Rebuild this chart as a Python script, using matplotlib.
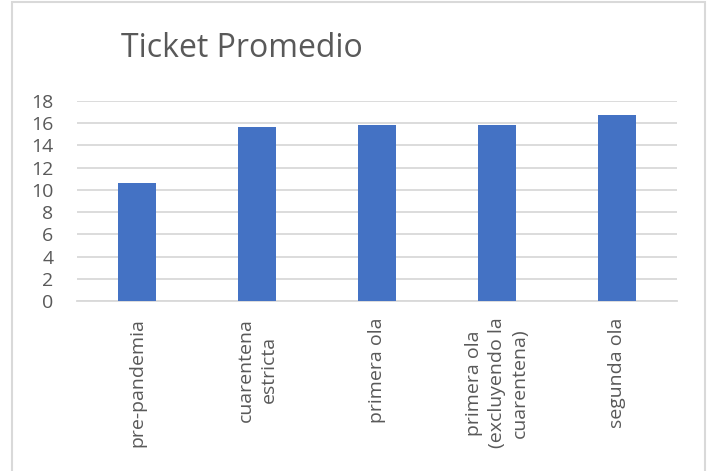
import matplotlib.pyplot as plt
import matplotlib.patches as mpatches
import numpy as np

categories = ['pre-pandemia', 'cuarentena\nestricta', 'primera ola',
              'primera ola\n(excluyendo la\ncuarentena)', 'segunda ola']
ticket = [10.6, 15.7, 15.8, 15.85, 16.75]
yticks = [0, 2, 4, 6, 8, 10, 12, 14, 16, 18]

TXT = '#595959'
plt.rcParams['font.family'] = ['Open Sans', 'DejaVu Sans']

fig = plt.figure(figsize=(7.12, 4.71), dpi=100)
ax = fig.add_axes([77 / 712, 170 / 471, 600 / 712, 200 / 471])

# chart border (bottom edge lies outside the picture)
fig.patches.append(mpatches.Rectangle((12 / 712, -0.05), 693 / 712, 1.05 - 2 / 471,
                                      transform=fig.transFigure, fill=False,
                                      edgecolor='#d9d9d9', lw=1.5))

x = np.arange(len(categories))
ax.bar(x, ticket, width=0.32, color='#4472C4', zorder=3)

ax.set_xlim(-0.5, len(categories) - 0.5)
ax.set_ylim(0, 18)
ax.set_yticks(yticks)
ax.yaxis.grid(True, color='#d9d9d9', lw=1.3, zorder=0)
for s in ['top', 'right', 'left']:
    ax.spines[s].set_visible(False)
ax.spines['bottom'].set_color('#d9d9d9')
ax.spines['bottom'].set_linewidth(1.3)
ax.tick_params(axis='both', length=0, labelsize=14, labelcolor=TXT)
ax.tick_params(axis='y', pad=17)
ax.tick_params(axis='x', pad=12)
ax.set_xticks(x)
ax.set_xticklabels(categories, rotation=90, ha='center', va='top',
                   multialignment='center', linespacing=1.35)

fig.text(121 / 712, 1 - 57 / 471, 'Ticket Promedio', fontsize=23, color=TXT,
         ha='left', va='baseline')

fig.savefig('out.png', dpi=100)
plt.close()
